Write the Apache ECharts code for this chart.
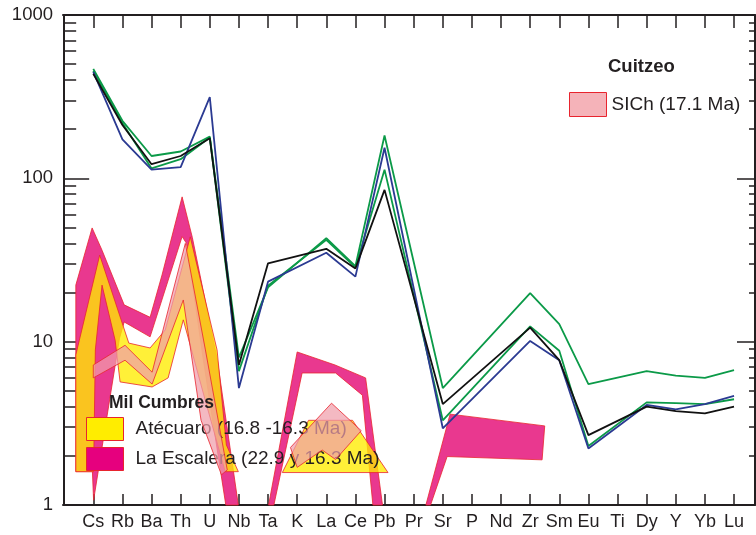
<!DOCTYPE html>
<html>
<head>
<meta charset="utf-8">
<script src="https://cdn.jsdelivr.net/npm/echarts@6/dist/echarts.min.js"></script>
<style>
  html, body { margin: 0; padding: 0; background: #fff; }
  #chart { width: 756px; height: 535px; }
</style>
</head>
<body>
<div id="chart"></div>
<script>
// elementos (eje x), Cs = 1 ... Lu = 23
const categories = ['Cs','Rb','Ba','Th','U','Nb','Ta','K','La','Ce','Pb','Pr','Sr','P','Nd','Zr','Sm','Eu','Ti','Dy','Y','Yb','Lu'];
const yMajor = [1, 10, 100, 1000];
const yMinor = [2,3,4,5,6,7,8,9,20,30,40,50,60,70,80,90,200,300,400,500,600,700,800,900];

// muestras (lineas)
const greenA = [468, 225, 137, 146, 180, 8.0, 21.5, null, 43, 29, 183, null, 5.2, null, null, 19.8, 12.8, 5.5, null, 6.6, 6.2, 6.0, 6.7];
const greenB = [455, 218, 115, 131, 178, 6.6, 22, null, 42, 28.5, 113, null, 3.3, null, null, 12.4, 8.8, 2.3, null, 4.25, 4.2, 4.14, 4.44];
const blue   = [448, 173, 113, 117, 314, 5.2, 23.3, null, 35, 25, 154, null, 2.95, null, null, 10.1, 7.7, 2.22, null, 4.1, 3.85, 4.14, 4.65];
const black  = [436, 212, 122, 137, 176, 7.2, 30.2, null, 37, 28.1, 85, null, 4.15, null, null, 12.2, 7.7, 2.68, null, 4.0, 3.76, 3.64, 4.0];

// campos (poligonos en [indice elemento, valor])
const escalera1 = [[0.40,22.2],[0.96,49.7],[1.30,36.3],[2.06,16.8],[2.95,14.1],[3.36,25.6],[4.05,77],[4.40,43.5],[5.26,7.7],[5.98,1.0],[5.55,1.0],[4.78,7.7],[4.2,40],[4.05,44],[2.95,10.7],[2.06,13.2],[1.9,10.5],[1.01,1.07],[0.97,1.6],[0.40,1.6]];
const escalera2 = [[7.02,1.0],[8.0,8.65],[9.3,7.2],[10.35,6.0],[10.93,1.0],[10.6,1.0],[10.24,4.7],[9.32,6.43],[8.17,6.43],[7.2,1.0]];
const escalera3 = [[12.42,1.0],[13.25,3.6],[16.5,3.05],[16.41,1.89],[13.15,1.98],[12.58,1.0]];
const atecuaro1 = [[0.40,1.6],[0.40,8.3],[1.22,33.9],[2.22,9.8],[2.95,9.15],[3.47,11.8],[4.33,43.8],[5.25,8.9],[5.57,2.33],[5.98,1.6],[5.53,1.6],[4.84,4.4],[4.09,13.6],[3.57,6.0],[3.02,5.28],[1.92,5.67],[1.75,10.2],[1.30,22.2],[1.07,8.9],[1.01,1.6]];
const atecuaro2 = [[7.49,1.58],[8.39,3.3],[9.9,3.3],[11.12,1.58]];
const sich1 = [[1.0,7.2],[2.09,9.5],[3.02,6.5],[4.16,40],[4.85,8.9],[5.6,1.64],[5.4,1.53],[4.7,3.3],[4.09,18],[3.02,5.5],[2.09,7.7],[1.0,6.0]];
const sich2 = [[7.77,2.25],[9.18,4.2],[10.2,2.85],[9.32,1.9],[8.86,2.17],[8.0,1.7]];

const ink = '#231F20';
const edge = '#E8242E';

function lineData(arr) {
  return arr.map((v, i) => [i + 1, v]);
}

function fieldSeries(name, polys, fill, z) {
  return {
    name: name,
    type: 'custom',
    z: z,
    itemStyle: { color: fill, borderColor: edge, borderWidth: 0.8 },
    data: polys.map((p, i) => [p[0][0], p[0][1], i]),
    renderItem: function (params, api) {
      const pts = polys[api.value(2)].map(p => api.coord(p));
      return {
        type: 'polygon',
        shape: { points: pts },
        style: { fill: fill, stroke: edge, lineWidth: 0.8 }
      };
    }
  };
}

function sampleLine(arr, color) {
  return {
    type: 'line',
    data: lineData(arr),
    connectNulls: true,
    symbol: 'none',
    z: 10,
    lineStyle: { color: color, width: 1.8 },
    emphasis: { disabled: true }
  };
}

const chart = echarts.init(document.getElementById('chart'));
const yBase = { type: 'log', logBase: 10, min: 1, max: 1000, gridIndex: 0, splitLine: { show: false } };

chart.setOption({
  animation: false,
  backgroundColor: '#fff',
  textStyle: { fontFamily: 'Liberation Sans, Arial, sans-serif' },
  title: [
    { text: 'Cuitzeo', left: 603, top: 52, textStyle: { fontSize: 18.5, fontWeight: 'bold', color: ink } },
    { text: 'Mil Cumbres', left: 104, top: 389, textStyle: { fontSize: 17.5, fontWeight: 'bold', color: ink } }
  ],
  legend: [
    {
      left: 564, top: 87, itemWidth: 37, itemHeight: 24,
      textStyle: { fontSize: 19, color: ink },
      data: [{ name: 'SICh (17.1 Ma)', icon: 'rect', itemStyle: { color: '#F5B3B9', borderColor: edge, borderWidth: 1 } }],
      selectedMode: false
    },
    {
      left: 81, top: 412, orient: 'vertical', itemGap: 6, itemWidth: 37, itemHeight: 23,
      textStyle: { fontSize: 19, color: ink, padding: [0, 0, 0, 7] },
      data: [
        { name: 'Atécuaro (16.8 -16.3 Ma)', icon: 'rect', itemStyle: { color: '#FFED00', borderColor: edge, borderWidth: 1 } },
        { name: 'La Escalera (22.9 y 16.3 Ma)', icon: 'rect', itemStyle: { color: '#E6007E', borderColor: edge, borderWidth: 1 } }
      ],
      selectedMode: false
    }
  ],
  grid: { left: 63, right: 1, top: 15, bottom: 30 },
  xAxis: [
    {
      type: 'value', min: -0.04, max: 23.72, position: 'bottom',
      splitLine: { show: false },
      axisLine: { lineStyle: { color: ink, width: 2 } },
      axisTick: { inside: true, length: 11, customValues: categories.map((c, i) => i + 1), lineStyle: { color: ink, width: 1.5 } },
      axisLabel: {
        customValues: categories.map((c, i) => i + 1),
        formatter: v => categories[Math.round(v) - 1] || '',
        fontSize: 18, color: ink, margin: 8
      }
    },
    {
      type: 'value', min: -0.04, max: 23.72, position: 'top',
      splitLine: { show: false },
      axisLine: { lineStyle: { color: ink, width: 2 } },
      axisTick: { inside: true, length: 13, customValues: categories.map((c, i) => i + 1), lineStyle: { color: ink, width: 1.5 } },
      axisLabel: { show: false }
    }
  ],
  yAxis: [
    Object.assign({}, yBase, {
      position: 'left',
      axisLine: { show: true, lineStyle: { color: ink, width: 2 } },
      axisTick: { inside: true, length: 25, customValues: yMajor, lineStyle: { color: ink, width: 1.5 } },
      axisLabel: { customValues: yMajor, formatter: v => String(v), fontSize: 18.5, color: ink, margin: 10 }
    }),
    Object.assign({}, yBase, {
      position: 'left',
      axisLine: { show: false },
      axisTick: { inside: true, length: 12, customValues: yMinor, lineStyle: { color: ink, width: 1.5 } },
      axisLabel: { show: false }
    }),
    Object.assign({}, yBase, {
      position: 'right',
      axisLine: { show: true, lineStyle: { color: ink, width: 2 } },
      axisTick: { inside: true, length: 18, customValues: yMajor, lineStyle: { color: ink, width: 1.5 } },
      axisLabel: { show: false }
    }),
    Object.assign({}, yBase, {
      position: 'right',
      axisLine: { show: false },
      axisTick: { inside: true, length: 6, customValues: yMinor, lineStyle: { color: ink, width: 1.5 } },
      axisLabel: { show: false }
    })
  ],
  series: [
    fieldSeries('La Escalera (22.9 y 16.3 Ma)', [escalera1, escalera2, escalera3], '#E9388F', 2),
    fieldSeries('Atécuaro (16.8 -16.3 Ma)', [atecuaro1, atecuaro2], 'rgba(255,236,0,0.78)', 3),
    fieldSeries('SICh (17.1 Ma)', [sich1, sich2], 'rgba(240,158,170,0.72)', 4),
    sampleLine(greenA, '#0B9A48'),
    sampleLine(greenB, '#0B9A48'),
    sampleLine(blue, '#2B3A92'),
    sampleLine(black, '#111111')
  ]
});
</script>
</body>
</html>
